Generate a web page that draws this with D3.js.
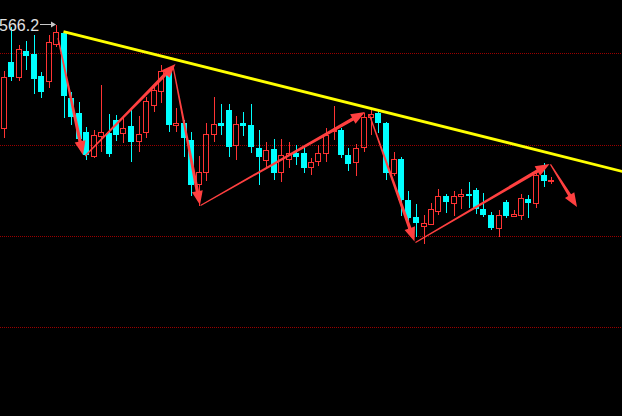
<!DOCTYPE html>
<html><head><meta charset="utf-8">
<script src="https://cdn.jsdelivr.net/npm/d3@7"></script>
<style>html,body{margin:0;padding:0;background:#000;overflow:hidden}</style>
</head><body><svg id="c" width="622" height="416"></svg>
<script>
const open = [561.04,564.37,563.59,564.92,564.75,563.65,563.42,565.27,565.80,562.55,
561.78,560.87,559.65,560.65,560.82,561.45,560.78,561.14,560.39,560.84,
562.18,562.90,563.95,561.20,561.30,560.45,558.25,558.85,560.74,561.32,
561.95,560.18,561.29,561.20,560.05,559.47,559.99,558.87,559.50,559.79,
559.82,559.10,559.40,559.79,560.90,560.95,559.70,559.37,560.08,561.61,
561.79,561.32,558.79,559.49,557.45,556.59,556.15,556.25,556.92,557.67,
557.29,557.65,557.77,557.95,556.99,556.70,556.07,557.33,556.65,556.68,
557.50,557.29,558.70,558.42];
const close = [563.62,563.59,564.99,564.64,563.50,562.84,565.37,565.84,562.65,561.60,
560.50,559.70,560.70,560.87,559.75,560.72,561.07,560.33,560.77,562.42,
562.93,563.88,561.20,561.30,560.54,558.20,558.85,560.74,561.24,561.15,
560.12,561.25,561.16,560.10,559.59,559.97,558.79,559.72,559.80,559.59,
559.05,559.37,559.79,560.72,560.95,559.70,559.27,560.07,561.62,561.76,
561.29,558.82,559.49,557.45,556.54,556.29,556.32,556.99,557.67,557.34,
557.67,557.75,557.64,556.99,556.70,556.07,556.70,556.65,556.77,557.54,
557.29,558.70,558.40,558.45];
const high = [563.90,566.10,565.20,565.40,565.70,563.87,565.70,566.20,565.88,562.85,
562.37,561.10,560.95,563.20,561.75,561.70,561.62,562.03,561.63,562.60,
563.20,564.20,564.10,562.05,561.45,560.87,559.64,561.29,562.58,562.24,
562.23,561.65,561.87,562.26,560.95,560.37,560.50,560.50,560.37,560.19,
560.08,559.55,560.20,561.05,562.14,561.04,560.04,560.25,561.79,561.94,
561.92,561.37,559.87,559.62,557.90,557.25,556.70,557.29,557.99,557.75,
557.90,557.99,558.33,558.04,557.80,556.87,556.93,557.45,556.95,557.75,
557.68,558.95,559.30,558.58];
const low = [560.55,563.40,563.42,563.95,562.77,562.54,563.04,565.10,561.55,561.20,
560.35,559.45,559.55,559.85,559.60,560.40,560.28,559.35,559.85,560.53,
561.87,562.30,560.87,560.87,559.62,557.65,557.15,558.40,560.34,560.70,
559.62,559.43,560.65,559.79,558.20,559.04,558.45,558.37,559.04,559.18,
558.80,558.70,559.15,559.35,560.45,559.54,558.92,558.64,559.87,560.70,
560.79,558.45,558.65,556.65,555.95,555.60,555.25,556.20,556.70,556.79,
556.65,557.00,557.03,556.75,556.62,555.94,555.60,556.55,556.58,556.45,
556.54,557.04,558.09,558.25];
const categories = open.map((_, i) => i);
const gridLevels = [564.79, 560.22, 555.66, 551.09];
const trendLine = [[8, 565.87], [82.5, 558.88]];
const arrows = [
  [[7.27, 565.55], [10.6, 559.70]],
  [[10.87, 559.65], [22.93, 564.25]],
  [[22.6, 564.15], [26.2, 557.20]],
  [[26.27, 557.18], [48.2, 561.85]],
  [[48.8, 561.70], [54.8, 555.38]],
  [[54.93, 555.33], [72.8, 559.25]],
  [[72.93, 559.23], [76.47, 557.10]]
];
const maxLabel = "566.2";
const maxValue = 566.2;

const W = 622, H = 416;
const UP = "#ff3333", DOWN = "#00ffff", ARROW = "#ff4040";
const svg = d3.select("#c");
svg.append("rect").attr("width", W).attr("height", H).attr("fill", "#000");

const x = d3.scaleLinear().domain([0, categories.length - 1]).range([3.5, 551]);
const y = d3.scaleLinear().domain([546.65, 567.45]).range([H, 0]);

// grid
svg.append("g").attr("shape-rendering", "crispEdges")
  .selectAll("line").data(gridLevels).join("line")
  .attr("x1", 0).attr("x2", W)
  .attr("y1", d => Math.round(y(d)) + 0.5).attr("y2", d => Math.round(y(d)) + 0.5)
  .attr("stroke", "#9a0000").attr("stroke-width", 1).attr("stroke-dasharray", "1,1");

// candles
const data = categories.map(i => ({i, o: open[i], h: high[i], l: low[i], c: close[i]}));
const g = svg.append("g").attr("shape-rendering", "crispEdges");
data.forEach(d => {
  const L = Math.round(x(d.i) - 3);
  const up = d.c >= d.o;
  const yt = y(Math.max(d.o, d.c)), yb = y(Math.min(d.o, d.c));
  const wx = L + 3;
  if (up) {
    g.append("line").attr("x1", wx).attr("x2", wx).attr("y1", y(d.h)).attr("y2", yt).attr("stroke", UP);
    g.append("line").attr("x1", wx).attr("x2", wx).attr("y1", yb).attr("y2", y(d.l)).attr("stroke", UP);
    g.append("rect").attr("x", L + 0.5).attr("y", Math.round(yt) + 0.5).attr("width", 5)
      .attr("height", Math.max(0, Math.round(yb) - Math.round(yt)))
      .attr("fill", "none").attr("stroke", UP);
  } else {
    g.append("line").attr("x1", wx).attr("x2", wx).attr("y1", y(d.h)).attr("y2", y(d.l)).attr("stroke", DOWN);
    g.append("rect").attr("x", L).attr("y", yt).attr("width", 6)
      .attr("height", Math.max(1, yb - yt)).attr("fill", DOWN);
  }
});

// trend line
svg.append("line")
  .attr("x1", x(trendLine[0][0])).attr("y1", y(trendLine[0][1]))
  .attr("x2", x(trendLine[1][0])).attr("y2", y(trendLine[1][1]))
  .attr("stroke", "#ffff00").attr("stroke-width", 2.8);

// arrows
function arrowPath(a) {
  const x0 = x(a[0][0]), y0 = y(a[0][1]), x1 = x(a[1][0]), y1 = y(a[1][1]);
  const dx = x1 - x0, dy = y1 - y0, len = Math.hypot(dx, dy);
  const ux = dx / len, uy = dy / len, nx = -uy, ny = ux;
  const hl = 14, hw = 5.5, w0 = 0.6, w1 = 1.7;
  const bx = x1 - ux * hl, by = y1 - uy * hl;
  const pts = [
    [x0 + nx * w0, y0 + ny * w0], [bx + nx * w1, by + ny * w1], [bx + nx * hw, by + ny * hw],
    [x1, y1], [bx - nx * hw, by - ny * hw], [bx - nx * w1, by - ny * w1], [x0 - nx * w0, y0 - ny * w0]
  ];
  return "M" + pts.map(p => p.join(",")).join("L") + "Z";
}
svg.append("g").selectAll("path").data(arrows).join("path")
  .attr("d", arrowPath).attr("fill", ARROW);

// max label
const ly = y(maxValue);
svg.append("text").attr("x", -1).attr("y", ly).attr("dy", "0.36em")
  .attr("font-family", "'Liberation Sans', Arial, sans-serif").attr("font-size", 16)
  .attr("fill", "#e0e0e0").text(maxLabel);
svg.append("line").attr("x1", 40).attr("x2", 54).attr("y1", ly - 0.5).attr("y2", ly - 0.5)
  .attr("stroke", "#c8c8c8").attr("stroke-width", 1);
svg.append("path").attr("d", `M56,${ly - 0.5}L51,${ly - 3.5}L51,${ly + 2.5}Z`).attr("fill", "#c8c8c8");
</script>
</body></html>
